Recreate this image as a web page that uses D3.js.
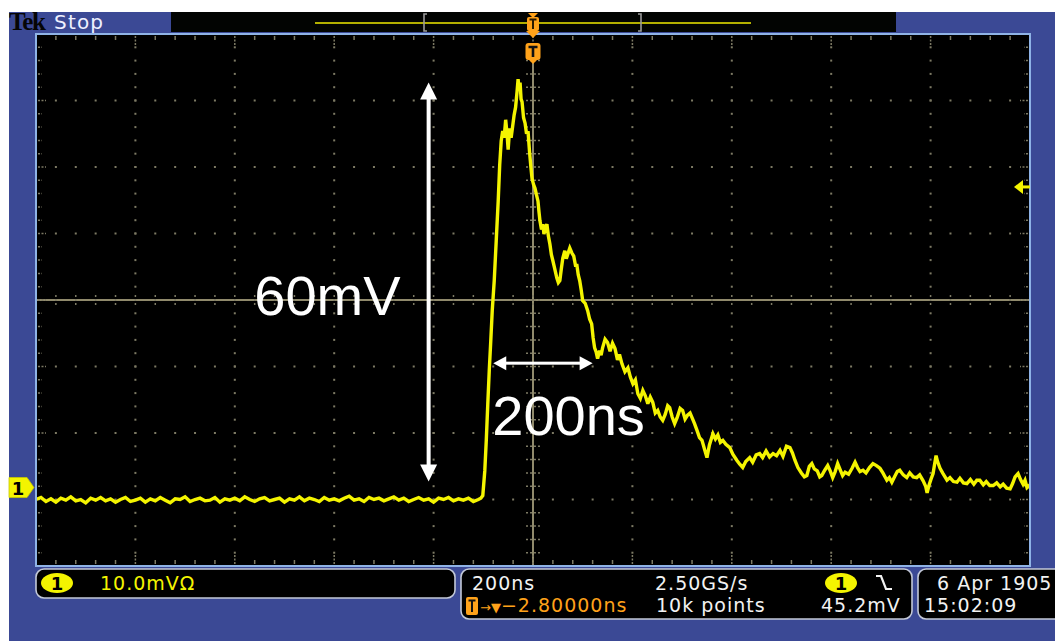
<!DOCTYPE html>
<html>
<head>
<meta charset="utf-8">
<script src="https://cdn.jsdelivr.net/npm/d3@7"></script>
<style>
  html, body { margin: 0; padding: 0; background: #ffffff; overflow: hidden; }
  svg { display: block; }
  .ui { font-family: "DejaVu Sans", Verdana, sans-serif; }
</style>
</head>
<body>
<svg id="scope" width="1055" height="641"></svg>
<script>
// ---- Acquisition settings -------------------------------------------------
const timePerDiv = 200;        // ns / division
const voltsPerDiv = 10;        // mV / division
const groundDiv = -2.82;       // channel 1 ground marker, divisions from centre
const triggerLevel = 45.2;     // mV
const hDivs = 10, vDivs = 8, minorPerDiv = 5;

// ---- Channel 1 record (mV) ------------------------------------------------
// pre-trigger baseline, one sample every 10 ns from -1000 ns
const baselineStart = -1000;
const baselineStep = 10;
const baseline = [
  -1.8, -1.5, -2.1, -1.7, -2.2, -1.6, -1.9, -1.4, -2.0, -1.8,
  -2.3, -1.6, -1.9, -1.5, -2.0, -1.7, -2.2, -1.8, -1.5, -2.1,
  -1.9, -1.6, -2.2, -1.7, -2.0, -1.5, -1.9, -2.3, -1.7, -1.8,
  -1.4, -2.1, -1.8, -1.6, -2.0, -1.9, -1.5, -2.2, -1.7, -1.9,
  -1.6, -2.0, -1.4, -1.8, -2.1, -1.7, -1.5, -2.0, -1.8, -1.6,
  -2.2, -1.7, -1.9, -1.4, -2.0, -1.6, -1.8, -2.1, -1.5, -1.9,
  -1.7, -2.0, -1.6, -1.3, -1.9, -1.7, -2.1, -1.5, -1.8, -1.6,
  -2.0, -1.7, -1.4, -1.9, -1.6, -2.1, -1.8, -1.5, -1.9, -1.7,
  -2.2, -1.6, -1.8, -1.5, -2.0, -1.7, -1.9, -1.6, -2.1, -1.8
];
// pulse and decay: [time ns, mV]
const pulse = [
  [-105,-1.6],[-101,-1.2],[-97,2.5],[-94,7.1],[-91,12.5],[-88,17.6],[-85,22.0],[-82,26.6],
  [-78,31.1],[-74,37.1],[-70,43.1],[-67,48.5],[-64,52.1],[-61,53.6],[-58,52.6],[-55,55.3],
  [-52,53.0],[-50,50.8],[-47,54.0],[-44,52.6],[-41,54.3],[-38,56.0],[-35,57.2],[-32,59.6],
  [-30,61.4],[-28,59.9],[-26,60.9],[-24,58.4],[-22,58.0],[-19,55.6],[-16,54.8],[-13,53.2],
  [-10,53.6],[-7,50.5],[-4,48.0],[-2,46.5],[1,45.6],[4,45.0],[7,44.0],[10,43.1],
  [12,41.5],[14,40.1],[17,38.8],[20,39.6],[22,38.1],[25,39.0],[28,39.6],[31,37.8],
  [34,36.6],[37,35.0],[40,34.1],[44,32.8],[48,31.5],[51,30.8],[54,31.1],[57,32.9],
  [60,34.5],[64,35.6],[67,34.4],[70,35.1],[74,36.0],[78,35.3],[82,34.8],[86,33.2],
  [88,33.6],[91,32.0],[94,31.1],[97,29.7],[100,28.1],[105,27.7],[110,26.6],[114,25.3],
  [118,24.6],[121,22.5],[124,21.0],[127,20.4],[130,19.4],[134,20.6],[137,19.9],[140,21.0],
  [145,22.3],[150,21.8],[155,20.5],[160,21.7],[165,20.9],[170,19.2],[174,20.0],[179,18.6],
  [185,17.4],[191,18.0],[196,16.6],[201,15.6],[206,16.2],[211,14.1],[216,13.4],[221,14.6],
  [226,13.8],[231,12.6],[236,13.6],[241,12.8],[246,11.2],[251,11.6],[256,10.6],[261,10.1],
  [266,11.0],[271,12.3],[275,12.0],[280,10.6],[285,9.6],[290,10.5],[296,11.9],[301,11.6],
  [306,10.3],[311,10.9],[316,11.2],[320,10.5],[325,9.6],[330,8.6],[335,7.5],[340,7.1],
  [345,5.8],[350,4.5],[355,6.4],[362,8.1],[367,7.3],[372,7.9],[377,6.8],[382,7.1],
  [388,6.5],[396,6.0],[402,5.0],[410,4.1],[416,3.5],[422,3.0],[428,3.9],[436,4.5],
  [442,3.8],[449,4.9],[456,5.1],[462,4.5],[469,5.5],[476,4.6],[483,5.1],[490,4.8],
  [497,5.6],[503,4.7],[510,6.2],[517,6.0],[522,5.2],[527,4.1],[533,3.0],[540,2.2],
  [546,1.6],[551,1.8],[556,3.2],[561,3.6],[566,2.8],[572,2.5],[577,1.6],[581,1.8],
  [587,2.6],[593,3.3],[598,2.5],[603,1.5],[608,2.4],[613,3.6],[618,2.7],[623,1.8],
  [628,2.3],[635,2.0],[642,2.9],[648,3.8],[653,3.0],[658,2.4],[664,2.6],[670,2.2],
  [677,3.0],[684,3.6],[691,3.3],[698,2.9],[704,2.2],[712,1.1],[717,1.5],[722,0.8],
  [728,1.7],[733,2.4],[738,2.6],[745,1.9],[752,1.5],[758,2.2],[765,1.6],[772,1.5],
  [778,1.9],[785,1.0],[790,0.2],[793,-0.8],[797,0.4],[801,1.3],[805,2.1],[808,3.5],
  [811,4.8],[814,3.9],[819,2.9],[825,2.1],[833,1.1],[839,1.5],[846,0.9],[853,0.8],
  [859,1.4],[866,0.7],[873,0.6],[880,1.2],[887,0.5],[893,1.1],[899,1.1],[906,0.4],
  [912,0.9],[919,0.3],[926,0.3],[933,0.7],[940,0.1],[946,0.5],[953,-0.1],[960,-0.2],
  [965,0.6],[970,1.6],[976,2.1],[981,1.2],[986,0.5],[990,1.1],[994,0.0],[1000,0.4]
];

// ---- Measurement annotations ----------------------------------------------
const ampMark  = { time: -210, from: 0.9, span: 60, label: "60mV" };   // mV
const widthMark = { level: 18.7, from: -80, span: 200, label: "200ns" }; // ns

// ---- Readout text ----------------------------------------------------------
const chLabel = "1";
const chScale = "10.0mVΩ";
const horizScale = "200ns";
const sampleRate = "2.50GS/s";
const trigDelay = "−2.80000ns";
const recordLen = "10k points";
const trigLevelText = "45.2mV";
const dateText = "6 Apr 1905";
const timeText = "15:02:09";
const runState = "Stop";

// ---- Layout ----------------------------------------------------------------
const W = 1055, H = 641;
const P = { x0: 36, x1: 1030, y0: 34, y1: 566 };
const BLUE = "#3b4995", FRAME = "#8fb3e6", GRID = "#7d7a64", CROSS = "#908a6c";
const YEL = "#f4f400", ORANGE = "#ffa21a";

const svg = d3.select("#scope");

const x = d3.scaleLinear()
  .domain([-hDivs / 2 * timePerDiv, hDivs / 2 * timePerDiv])
  .range([P.x0, P.x1]);
const y = d3.scaleLinear()
  .domain([(-vDivs / 2 - groundDiv) * voltsPerDiv, (vDivs / 2 - groundDiv) * voltsPerDiv])
  .range([P.y1, P.y0]);

// page and bezel
svg.append("rect").attr("width", W).attr("height", H).attr("fill", "#ffffff");
svg.append("rect").attr("x", 9).attr("y", 12).attr("width", W - 9).attr("height", H - 12).attr("fill", BLUE);

// top status strip
svg.append("rect").attr("x", 171).attr("y", 12).attr("width", 725).attr("height", 20).attr("fill", "#020402");
svg.append("text").attr("x", 9).attr("y", 30)
  .attr("font-family", "Liberation Serif, serif").attr("font-weight", "bold")
  .attr("font-size", 25).attr("letter-spacing", -1.2).attr("fill", "#050505").text("Tek");
svg.append("text").attr("class", "ui").attr("x", 54).attr("y", 28.5)
  .attr("font-size", 20).attr("letter-spacing", 1.2).attr("fill", "#eef0ff").text(runState);

// record overview (whole record in view, brackets mark the screen window)
const ovY = 23;
svg.append("line").attr("x1", 315).attr("x2", 751).attr("y1", ovY).attr("y2", ovY)
  .attr("stroke", "#b3b000").attr("stroke-width", 2);
[[424, 1], [641, -1]].forEach(([bx, dir]) => {
  svg.append("path")
    .attr("d", `M${bx + 3 * dir},14 H${bx} V31 H${bx + 3 * dir}`)
    .attr("fill", "none").attr("stroke", "#9a9a9a").attr("stroke-width", 1.6);
});

// plot area
const plot = svg.append("g");
plot.append("rect").attr("x", P.x0).attr("y", P.y0).attr("width", P.x1 - P.x0).attr("height", P.y1 - P.y0).attr("fill", "#000");

const majorX = d3.range(-hDivs / 2, hDivs / 2 + 1).map(d => d * timePerDiv);
const minorX = d3.range(-hDivs / 2 * minorPerDiv, hDivs / 2 * minorPerDiv + 1).map(d => d * timePerDiv / minorPerDiv);
const yd = d3.scaleLinear().domain([-vDivs / 2, vDivs / 2]).range([P.y1, P.y0]);
const majorY = d3.range(-vDivs / 2, vDivs / 2 + 1);
const minorY = d3.range(-vDivs / 2 * minorPerDiv, vDivs / 2 * minorPerDiv + 1).map(d => d / minorPerDiv);

// dotted graticule
const dots = plot.append("g").attr("fill", GRID);
majorX.filter(t => t !== 0 && Math.abs(t) < hDivs / 2 * timePerDiv).forEach(t => {
  minorY.slice(1, -1).forEach(v => {
    dots.append("rect").attr("x", x(t) - 1).attr("y", yd(v) - 1).attr("width", 2).attr("height", 2);
  });
});
majorY.filter(v => v !== 0 && Math.abs(v) < vDivs / 2).forEach(v => {
  minorX.slice(1, -1).forEach(t => {
    dots.append("rect").attr("x", x(t) - 1).attr("y", yd(v) - 1).attr("width", 2).attr("height", 2);
  });
});

// centre crosshair with minor ticks
plot.append("line").attr("x1", P.x0).attr("x2", P.x1).attr("y1", yd(0)).attr("y2", yd(0))
  .attr("stroke", CROSS).attr("stroke-width", 2);
plot.append("line").attr("x1", x(0)).attr("x2", x(0)).attr("y1", P.y0 + 28).attr("y2", P.y1)
  .attr("stroke", CROSS).attr("stroke-width", 2);
minorX.slice(1, -1).forEach(t => {
  plot.append("line").attr("x1", x(t)).attr("x2", x(t)).attr("y1", yd(0) - 5).attr("y2", yd(0) + 5)
    .attr("stroke", GRID).attr("stroke-width", 1.5).attr("stroke-dasharray", "2,2");
});
minorY.slice(1, -1).forEach(v => {
  plot.append("line").attr("x1", x(0) - 7).attr("x2", x(0) + 7).attr("y1", yd(v)).attr("y2", yd(v))
    .attr("stroke", GRID).attr("stroke-width", 1.5).attr("stroke-dasharray", "2,2");
});

// edge ticks
minorX.slice(1, -1).forEach((t, i) => {
  const major = (i + 1) % minorPerDiv === 0;
  const len = major ? 10 : 4;
  [[P.y0 + 2, 1], [P.y1 - 2, -1]].forEach(([e, d]) => {
    plot.append("line").attr("x1", x(t)).attr("x2", x(t)).attr("y1", e).attr("y2", e + d * len)
      .attr("stroke", GRID).attr("stroke-width", 1.5).attr("stroke-dasharray", major ? "2,1.5" : null);
  });
});
minorY.slice(1, -1).forEach((v, i) => {
  const major = (i + 1) % minorPerDiv === 0;
  const len = major ? 8 : 4;
  [[P.x0 + 2, 1], [P.x1 - 2, -1]].forEach(([e, d]) => {
    plot.append("line").attr("y1", yd(v)).attr("y2", yd(v)).attr("x1", e).attr("x2", e + d * len)
      .attr("stroke", GRID).attr("stroke-width", 1.5).attr("stroke-dasharray", "2,1.5");
  });
});

// waveform
const record = baseline.map((v, i) => [baselineStart + i * baselineStep, v]).concat(pulse);
svg.append("clipPath").attr("id", "screen").append("rect")
  .attr("x", P.x0).attr("y", P.y0).attr("width", P.x1 - P.x0).attr("height", P.y1 - P.y0);
plot.append("path")
  .datum(record)
  .attr("clip-path", "url(#screen)")
  .attr("fill", "none").attr("stroke", YEL).attr("stroke-width", 3.4)
  .attr("stroke-linejoin", "miter").attr("stroke-miterlimit", 3)
  .attr("d", d3.line().x(d => x(d[0])).y(d => y(d[1])));

// frame
svg.append("rect").attr("x", P.x0).attr("y", P.y0).attr("width", P.x1 - P.x0).attr("height", P.y1 - P.y0)
  .attr("fill", "none").attr("stroke", FRAME).attr("stroke-width", 2);

// trigger position markers (top)
const tx = x(0);
svg.append("path").attr("d", `M${tx - 5},13 H${tx + 5} L${tx},18 Z`).attr("fill", ORANGE);
svg.append("rect").attr("x", tx - 6).attr("y", 17).attr("width", 12).attr("height", 14).attr("rx", 2).attr("fill", ORANGE);
svg.append("path").attr("d", `M${tx - 3.5},19.5 H${tx + 3.5} M${tx},19.5 V29`).attr("stroke", "#2a1a00").attr("stroke-width", 2);
svg.append("path").attr("d", `M${tx - 7},31 H${tx + 7} L${tx},38 Z`).attr("fill", ORANGE);
svg.append("rect").attr("x", tx - 7.5).attr("y", 43).attr("width", 15).attr("height", 17).attr("rx", 3).attr("fill", ORANGE);
svg.append("path").attr("d", `M${tx - 4},60 L${tx},64 L${tx + 4},60 Z`).attr("fill", ORANGE);
svg.append("path").attr("d", `M${tx - 4.5},47 H${tx + 4.5} M${tx},47 V57`).attr("stroke", "#111").attr("stroke-width", 2.6);

// trigger level marker (right edge)
const ty = y(triggerLevel);
svg.append("path").attr("d", `M${P.x1 - 16},${ty} L${P.x1 - 7},${ty - 7} L${P.x1 - 7},${ty + 7} Z`).attr("fill", YEL);
svg.append("line").attr("x1", P.x1 - 8).attr("x2", P.x1).attr("y1", ty).attr("y2", ty).attr("stroke", YEL).attr("stroke-width", 3);

// channel 1 ground marker (left edge)
const gy = y(0);
svg.append("path")
  .attr("d", `M9,${gy - 10} H27 L34,${gy} L27,${gy + 10} H9 Z`)
  .attr("fill", YEL).attr("stroke", "#c8c800").attr("stroke-width", 0.8);
svg.append("text").attr("class", "ui").attr("x", 18).attr("y", gy + 7).attr("text-anchor", "middle")
  .attr("font-size", 18).attr("font-weight", "bold").attr("fill", "#000").text(chLabel);

// amplitude annotation
const arrowFill = "#ffffff";
function vArrow(cx, yTop, yBot, head, half, shaft) {
  svg.append("rect").attr("x", cx - shaft / 2).attr("y", yTop + head - 1).attr("width", shaft).attr("height", yBot - yTop - 2 * head + 2).attr("fill", arrowFill);
  svg.append("path").attr("d", `M${cx},${yTop} L${cx + half},${yTop + head} L${cx - half},${yTop + head} Z`).attr("fill", arrowFill);
  svg.append("path").attr("d", `M${cx},${yBot} L${cx + half},${yBot - head} L${cx - half},${yBot - head} Z`).attr("fill", arrowFill);
}
function hArrow(cy, xL, xR, head, half, shaft) {
  svg.append("rect").attr("y", cy - shaft / 2).attr("x", xL + head - 1).attr("height", shaft).attr("width", xR - xL - 2 * head + 2).attr("fill", arrowFill);
  svg.append("path").attr("d", `M${xL},${cy} L${xL + head},${cy - half} L${xL + head},${cy + half} Z`).attr("fill", arrowFill);
  svg.append("path").attr("d", `M${xR},${cy} L${xR - head},${cy - half} L${xR - head},${cy + half} Z`).attr("fill", arrowFill);
}
const ax = x(ampMark.time);
vArrow(ax, y(ampMark.from + ampMark.span), y(ampMark.from), 17, 8.5, 4);
svg.append("text").attr("x", ax - 28).attr("y", y(26)).attr("text-anchor", "end")
  .attr("font-family", "Liberation Sans, Arial, sans-serif").attr("font-size", 56)
  .attr("fill", "#fff").text(ampMark.label);

const hy = y(widthMark.level);
hArrow(hy, x(widthMark.from), x(widthMark.from + widthMark.span), 13, 7, 3);
svg.append("text").attr("x", x(-82)).attr("y", y(7.9))
  .attr("font-family", "Liberation Sans, Arial, sans-serif").attr("font-size", 56)
  .attr("fill", "#fff").text(widthMark.label);

// ---- readout boxes --------------------------------------------------------
function box(x0, y0, w, h) {
  svg.append("rect").attr("x", x0).attr("y", y0).attr("width", w).attr("height", h).attr("rx", 8)
    .attr("fill", "#000").attr("stroke", "#c3c9d8").attr("stroke-width", 1.6);
}
function pill(cx, cy) {
  svg.append("ellipse").attr("cx", cx).attr("cy", cy).attr("rx", 16).attr("ry", 10).attr("fill", YEL);
  svg.append("text").attr("class", "ui").attr("x", cx).attr("y", cy + 7).attr("text-anchor", "middle")
    .attr("font-size", 18).attr("font-weight", "bold").attr("fill", "#000").text(chLabel);
}
function readout(xp, yp, str, color) {
  return svg.append("text").attr("class", "ui").attr("x", xp).attr("y", yp)
    .attr("font-size", 19).attr("letter-spacing", 1).attr("fill", color || "#f2f2f2").text(str);
}
const L1 = 590, L2 = 612;

box(36, 569, 419, 29);
pill(57, 583);
readout(100, L1, chScale, YEL);

box(461, 569, 451, 50);
readout(472, L1, horizScale);
readout(655, L1, sampleRate);
pill(841, 583);
svg.append("path").attr("d", "M876,576 H881 L886,589 H892").attr("fill", "none")
  .attr("stroke", "#f2f2f2").attr("stroke-width", 2.2);
svg.append("rect").attr("x", 466).attr("y", 597).attr("width", 12).attr("height", 18).attr("rx", 2).attr("fill", ORANGE);
svg.append("path").attr("d", "M468.5,600.5 H475.5 M472,600.5 V612").attr("stroke", "#111").attr("stroke-width", 2);
const dly = readout(480, L2, "", ORANGE);
dly.append("tspan").attr("font-size", 13).attr("letter-spacing", 0).text("→");
dly.append("tspan").attr("font-size", 13).attr("letter-spacing", 0).text("▼");
dly.append("tspan").text(trigDelay);
readout(656, L2, recordLen);
readout(821, L2, trigLevelText);

box(918, 569, 160, 50);
readout(937, L1, dateText);
readout(924, L2, timeText);
</script>
</body>
</html>
